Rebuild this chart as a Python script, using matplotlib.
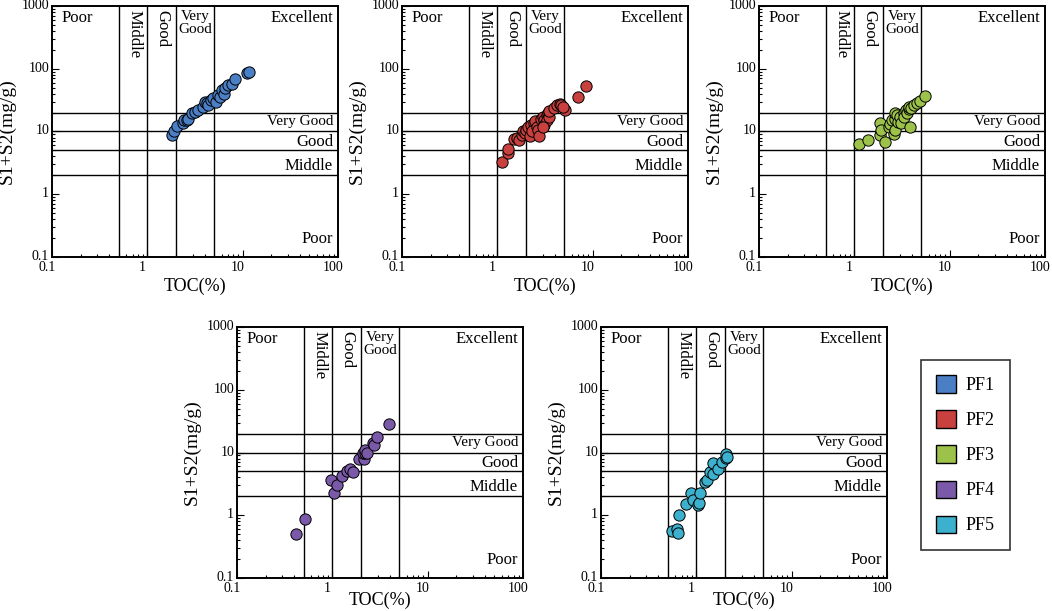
import matplotlib.pyplot as plt
from matplotlib.patches import Patch
from matplotlib.ticker import LogLocator, NullFormatter
import matplotlib.transforms as mtransforms

plt.rcParams['font.family'] = ['Liberation Serif', 'DejaVu Serif']

# ---- data (TOC %, S1+S2 mg/g) ----
toc_pf1 = [1.8, 1.9, 2.03, 2.35, 2.4, 2.6, 2.7, 2.92, 3.16, 3.4, 3.87, 4.0, 4.2, 4.36,
           4.7, 4.9, 5.3, 5.56, 5.8, 6.0, 6.3, 6.5, 7.1, 7.7, 8.3, 11.0, 11.7]
s1s2_pf1 = [8.8, 10, 12.2, 13.5, 15.2, 15, 16, 19.5, 20.7, 22, 24.8, 30, 28, 26,
            31.6, 34, 30, 38, 36, 46, 40, 49, 55, 58, 68, 86, 88]

toc_pf2 = [1.11, 1.28, 1.3, 1.5, 1.6, 1.7, 1.8, 1.85, 1.95, 2.0, 2.1, 2.2, 2.25, 2.4,
           2.3, 2.5, 2.6, 2.7, 2.75, 2.9, 3.0, 3.1, 3.1, 3.3, 3.3, 3.4, 3.5, 3.0,
           3.5, 3.9, 4.2, 4.5, 4.6, 5.1, 4.9, 7.1, 8.5]
s1s2_pf2 = [3.3, 4.5, 5.2, 7.5, 7.8, 7.2, 8.8, 10, 9.3, 10.5, 11.8, 8.5, 12.5, 13.5,
            10, 14.5, 12, 10.5, 8.5, 16, 17, 15, 12.5, 18.5, 15, 20, 17, 12,
            21, 24, 26, 27, 26, 22, 25, 36, 53]

toc_pf3 = [1.13, 1.38, 1.86, 1.88, 1.92, 2.1, 2.3, 2.35, 2.5, 2.6, 2.65, 2.65, 2.7,
           2.8, 2.85, 3.0, 3.1, 3.3, 3.35, 3.5, 3.6, 3.75, 3.85, 3.7, 3.9, 4.2, 4.5,
           4.9, 5.5]
s1s2_pf3 = [6.3, 7.3, 8.8, 13.5, 10.5, 6.9, 12, 13, 15, 9, 16, 10.5, 19.5,
            18, 14, 17, 13.5, 20, 17, 22, 19.5, 23, 12, 25, 24, 26, 28,
            31, 37]

toc_pf4 = [0.42, 0.52, 0.96, 1.04, 1.12, 1.25, 1.42, 1.53, 1.66, 1.91, 2.17, 2.1,
           2.2, 2.2, 2.3, 2.7, 2.75, 2.96, 3.96]
s1s2_pf4 = [0.51, 0.86, 3.6, 2.3, 3.0, 4.2, 5.1, 5.5, 4.9, 7.8, 8.0, 10,
            9.8, 11, 10, 14, 13, 17.8, 28.4]

toc_pf5 = [0.55, 0.62, 0.65, 0.66, 0.78, 0.87, 0.93, 1.05, 1.07, 1.09, 1.23, 1.3,
           1.39, 1.5, 1.5, 1.7, 1.85, 2.03, 2.05, 2.1]
s1s2_pf5 = [0.56, 0.6, 0.52, 1.0, 1.5, 2.24, 1.75, 1.45, 1.55, 2.3, 3.4, 3.6,
            4.95, 4.5, 6.7, 5.4, 7.1, 8.1, 9.5, 8.5]

series_names = ["PF1", "PF2", "PF3", "PF4", "PF5"]
series_colors = ["#4a7fc6", "#c9413f", "#9dc24a", "#7a5aa8", "#3cb0cc"]
series_toc = [toc_pf1, toc_pf2, toc_pf3, toc_pf4, toc_pf5]
series_s = [s1s2_pf1, s1s2_pf2, s1s2_pf3, s1s2_pf4, s1s2_pf5]

toc_bounds = [0.5, 1, 2, 5]
s_bounds = [2, 5, 10, 20]
x_ticks = [0.1, 1, 10, 100]
x_tick_labels = ["0.1", "1", "10", "100"]
y_ticks = [0.1, 1, 10, 100, 1000]
y_tick_labels = ["0.1", "1", "10", "100", "1000"]

W, H = 1052, 611
fig = plt.figure(figsize=(W / 100, H / 100), dpi=100)

# axes boxes in pixels: left, top  (+ gap for the x label)
boxes = [(52, 6, 3), (402, 6, 3), (759, 6, 3), (237, 327, -2), (601, 327, -2)]
aw, ah = 286, 251


def draw_panel(ax, toc, s, color, xpad):
    ax.set_xscale("log")
    ax.set_yscale("log")
    ax.set_xlim(0.1, 100)
    ax.set_ylim(0.1, 1000)

    for xb in toc_bounds:
        ax.axvline(xb, color="black", lw=1.0, zorder=1)
    for yb in s_bounds:
        ax.axhline(yb, color="black", lw=1.0, zorder=1)

    ax.scatter(toc, s, s=66, c=color, edgecolors="black", linewidths=0.7, zorder=3)

    ax.set_xticks(x_ticks)
    ax.set_xticklabels(x_tick_labels)
    ax.set_yticks(y_ticks)
    ax.set_yticklabels(y_tick_labels)
    ax.xaxis.set_minor_locator(LogLocator(base=10, subs=range(2, 10)))
    ax.yaxis.set_minor_locator(LogLocator(base=10, subs=range(2, 10)))
    ax.xaxis.set_minor_formatter(NullFormatter())
    ax.yaxis.set_minor_formatter(NullFormatter())
    ax.tick_params(which="both", direction="in", top=False, right=False,
                   labelsize=10, pad=2, width=0.8)
    ax.tick_params(which="major", length=5)
    ax.tick_params(which="minor", length=2.5)
    for sp in ax.spines.values():
        sp.set_linewidth(1.4)

    # the reference has its tick labels nudged a little off the ticks
    dx = mtransforms.ScaledTranslation(-5 / 100, -1 / 100, fig.dpi_scale_trans)
    for lab in ax.get_xticklabels():
        lab.set_transform(lab.get_transform() + dx)
    dy = mtransforms.ScaledTranslation(0, 2 / 100, fig.dpi_scale_trans)
    for lab in ax.get_yticklabels():
        lab.set_transform(lab.get_transform() + dy)

    ax.set_xlabel("TOC(%)", fontsize=13, labelpad=xpad)
    ax.set_ylabel("S1+S2(mg/g)", fontsize=14, labelpad=4)

    fs = 12
    # top row of TOC classes
    top = mtransforms.blended_transform_factory(ax.transData, ax.transAxes)
    ax.text(0.034, 0.985, "Poor", transform=ax.transAxes, ha="left", va="top", fontsize=fs)
    ax.text(0.73, 0.985, "Middle", transform=top, ha="center", va="top",
            rotation=270, fontsize=fs)
    ax.text(1.45, 0.985, "Good", transform=top, ha="center", va="top",
            rotation=270, fontsize=fs)
    ax.text(3.2, 0.985, "Very\nGood", transform=top, ha="center", va="top",
            fontsize=11, linespacing=1.0)
    ax.text(0.983, 0.985, "Excellent", transform=ax.transAxes, ha="right", va="top",
            fontsize=fs)
    # right column of S1+S2 classes
    side = mtransforms.blended_transform_factory(ax.transAxes, ax.transData)
    ax.text(0.983, 14.3, "Very Good", transform=side, ha="right", va="center", fontsize=11)
    ax.text(0.983, 6.9, "Good", transform=side, ha="right", va="center", fontsize=fs)
    ax.text(0.983, 2.8, "Middle", transform=side, ha="right", va="center", fontsize=fs)
    ax.text(0.983, 0.195, "Poor", transform=side, ha="right", va="center", fontsize=fs)


for (lx, ty, xpad), toc, s, col in zip(boxes, series_toc, series_s, series_colors):
    ax = fig.add_axes([lx / W, 1 - (ty + ah) / H, aw / W, ah / H])
    draw_panel(ax, toc, s, col, xpad)

handles = [Patch(facecolor=c, edgecolor="black", linewidth=1.0) for c in series_colors]
leg = fig.legend(handles, series_names, loc="upper left",
                 bbox_to_anchor=(921 / W, 1 - 360 / H), fontsize=13,
                 frameon=True, fancybox=False, edgecolor="black",
                 handlelength=1.1, handleheight=1.1, labelspacing=0.9,
                 borderpad=0.85, handletextpad=0.5, borderaxespad=0)
leg.get_frame().set_linewidth(1.2)

fig.savefig("out.png", dpi=100)
